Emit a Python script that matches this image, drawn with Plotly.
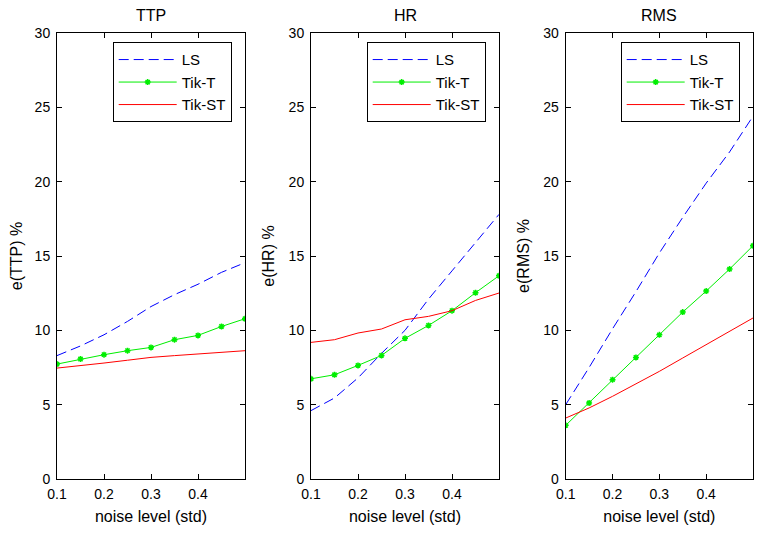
import plotly.graph_objects as go

noise = [0.1, 0.15, 0.2, 0.25, 0.3, 0.35, 0.4, 0.45, 0.5]

ttp_ls = [8.3, 8.95, 9.7, 10.6, 11.6, 12.4, 13.1, 13.9, 14.55]
ttp_tikt = [7.73, 8.07, 8.36, 8.63, 8.85, 9.37, 9.66, 10.26, 10.78]
ttp_tikst = [7.46, 7.62, 7.8, 7.99, 8.18, 8.3, 8.41, 8.52, 8.63]

hr_ls = [4.6, 5.45, 6.8, 8.45, 10.0, 12.1, 14.0, 15.9, 17.8]
hr_tikt = [6.74, 7.01, 7.64, 8.31, 9.46, 10.33, 11.32, 12.53, 13.67]
hr_tikst = [9.19, 9.37, 9.82, 10.09, 10.71, 10.94, 11.32, 12.01, 12.51]

rms_ls = [5.0, 7.5, 10.1, 12.6, 15.2, 17.6, 19.9, 22.0, 24.4]
rms_tikt = [3.61, 5.11, 6.68, 8.18, 9.70, 11.23, 12.64, 14.12, 15.69]
rms_tikst = [4.1, 4.78, 5.56, 6.39, 7.24, 8.14, 9.03, 9.89, 10.83]

panel_titles = ["TTP", "HR", "RMS"]
y_titles = ["e(TTP) %", "e(HR) %", "e(RMS) %"]
x_title = "noise level (std)"
series_names = ["LS", "Tik-T", "Tik-ST"]
x_ticks = [0.1, 0.2, 0.3, 0.4]
y_ticks = [0, 5, 10, 15, 20, 25, 30]

panels = [
    (ttp_ls, ttp_tikt, ttp_tikst),
    (hr_ls, hr_tikt, hr_tikst),
    (rms_ls, rms_tikt, rms_tikst),
]

FONT = "Liberation Sans, Arial, sans-serif"
OFF = 8  # default page body margin in the written html
W, H = 763 - OFF, 533 - OFF
ML, MT = 57 - OFF, 33 - OFF
MR = W - (753 - OFF)
MB = H - (479 - OFF)
PW = W - ML - MR
PH = H - MT - MB

def fx(px):
    return (px - OFF - ML) / PW

def fy(py):
    return 1 - (py - OFF - MT) / PH

x_domains = [(57, 245), (311, 499), (565.7, 753)]
legend_left = [112.7, 366.7, 620.7]
ytitle_standoff = [13, 10, 9]

fig = go.Figure()
legend_ids = ["legend", "legend2", "legend3"]

for i, (ls, tikt, tikst) in enumerate(panels):
    xa = "x" if i == 0 else f"x{i+1}"
    ya = "y" if i == 0 else f"y{i+1}"
    lg = legend_ids[i]
    fig.add_trace(go.Scatter(x=noise, y=ls, mode="lines", name=series_names[0],
                             line=dict(color="#0000FF", width=1, dash="10px,5px"),
                             xaxis=xa, yaxis=ya, legend=lg))
    fig.add_trace(go.Scatter(x=noise, y=tikt, mode="lines+markers", name=series_names[1],
                             line=dict(color="#00EE00", width=1),
                             marker=dict(symbol="asterisk-open", size=5, color="#00EE00",
                                         line=dict(color="#00EE00", width=1.5)),
                             xaxis=xa, yaxis=ya, legend=lg))
    fig.add_trace(go.Scatter(x=noise, y=tikst, mode="lines", name=series_names[2],
                             line=dict(color="#FF0000", width=1),
                             xaxis=xa, yaxis=ya, legend=lg))

layout = dict(
    template="none",
    width=W, height=H,
    margin=dict(l=ML, r=MR, t=MT, b=MB, autoexpand=False),
    paper_bgcolor="white", plot_bgcolor="white",
    font=dict(family=FONT, size=14, color="black"),
    showlegend=True,
)

axis_common = dict(showline=True, linecolor="black", linewidth=1, mirror="ticks",
                   ticks="inside", ticklen=5, tickcolor="black", showgrid=False,
                   zeroline=False, automargin=False,
                   tickfont=dict(family=FONT, size=14, color="black"))

for i in range(3):
    xk = "xaxis" if i == 0 else f"xaxis{i+1}"
    yk = "yaxis" if i == 0 else f"yaxis{i+1}"
    ya = "y" if i == 0 else f"y{i+1}"
    xa = "x" if i == 0 else f"x{i+1}"
    d0, d1 = x_domains[i]
    layout[xk] = dict(axis_common, domain=[fx(d0), min(1.0, fx(d1))], range=[0.1, 0.5],
                      tickvals=x_ticks, ticktext=[f"{v:.1f}" for v in x_ticks],
                      anchor=ya, ticklabelstandoff=2,
                      title=dict(text=x_title, font=dict(family=FONT, size=16), standoff=10))
    layout[yk] = dict(axis_common, domain=[0, 1], range=[0, 30], tickvals=y_ticks,
                      anchor=xa, ticklabelstandoff=3,
                      title=dict(text=y_titles[i], font=dict(family=FONT, size=16),
                                 standoff=ytitle_standoff[i]))
    lk = legend_ids[i]
    layout[lk] = dict(x=fx(legend_left[i]), y=fy(42.3), xanchor="left", yanchor="top",
                      bgcolor="white", bordercolor="black", borderwidth=1,
                      font=dict(family=FONT, size=15, color="black"),
                      itemwidth=58, tracegroupgap=0)

fig.update_layout(**layout)

for i in range(3):
    fig.add_annotation(text=panel_titles[i], xref=("x domain" if i == 0 else f"x{i+1} domain"),
                       yref="paper", x=0.5, y=fy(15.5), xanchor="center", yanchor="middle",
                       showarrow=False, font=dict(family=FONT, size=16, color="black"))

fig.write_html("out.html")
